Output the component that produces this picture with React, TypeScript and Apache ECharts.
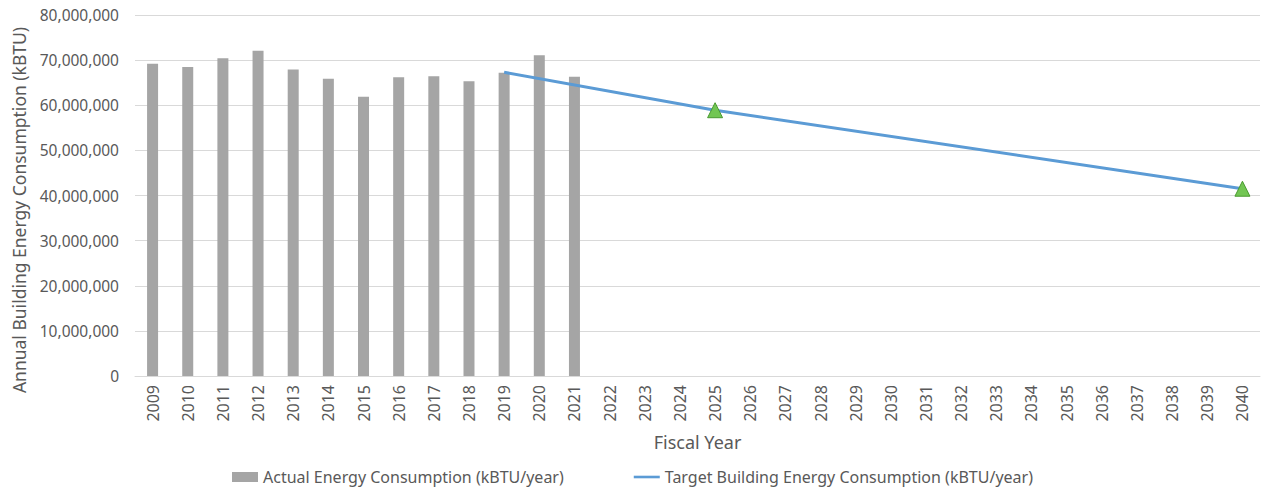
import React, { useEffect, useRef } from "react";
import * as echarts from "echarts";

const years: string[] = [
  "2009", "2010", "2011", "2012", "2013", "2014", "2015", "2016", "2017", "2018",
  "2019", "2020", "2021", "2022", "2023", "2024", "2025", "2026", "2027", "2028",
  "2029", "2030", "2031", "2032", "2033", "2034", "2035", "2036", "2037", "2038",
  "2039", "2040",
];

const actualYears: string[] = [
  "2009", "2010", "2011", "2012", "2013", "2014", "2015", "2016", "2017", "2018",
  "2019", "2020", "2021",
];
const actualValues: number[] = [
  69200000, 68500000, 70400000, 72100000, 67900000, 65900000, 61900000, 66200000,
  66400000, 65300000, 67200000, 71100000, 66300000,
];

const targetYears: string[] = ["2019", "2025", "2040"];
const targetValues: number[] = [67300000, 58900000, 41500000];
const targetMarked: boolean[] = [false, true, true];

const yTicks: number[] = [0, 10000000, 20000000, 30000000, 40000000, 50000000, 60000000, 70000000, 80000000];

const FONT = "'Noto Sans', sans-serif";
const TXT = "#595959";
const BAR_NAME = "Actual Energy Consumption (kBTU/year)";
const LINE_NAME = "Target Building Energy Consumption (kBTU/year)";
const Y_NAME = "Annual Building Energy Consumption (kBTU)";

export default function App() {
  const ref = useRef<HTMLDivElement>(null);
  useEffect(() => {
    document.body.style.margin = "0";
    if (!ref.current) return;
    const chart = echarts.init(ref.current, undefined, { renderer: "svg" });

    const barData = years.map((y) => {
      const i = actualYears.indexOf(y);
      return i >= 0 ? actualValues[i] : null;
    });
    const lineData = years.map((y) => {
      const i = targetYears.indexOf(y);
      if (i < 0) return null;
      return targetMarked[i]
        ? { value: targetValues[i], symbol: "triangle" }
        : { value: targetValues[i], symbol: "none" };
    });

    chart.setOption({
      animation: false,
      textStyle: { fontFamily: FONT },
      grid: { left: 135, right: 1, top: 15, bottom: 112, containLabel: false },
      legend: {
        top: 468,
        left: 232,
        padding: 0,
        itemGap: 70,
        itemWidth: 26,
        itemHeight: 10,
        textStyle: { fontFamily: FONT, fontSize: 16, color: TXT, lineHeight: 18 },
        data: [
          { name: BAR_NAME, icon: "rect", itemStyle: { color: "#A5A5A5" } },
          {
            name: LINE_NAME,
            icon: "path://M0,0 H30 V3 H0 Z",
            itemStyle: { color: "#5B9BD5", borderWidth: 0 },
          },
        ],
      },
      graphic: [
        {
          type: "text",
          x: 19,
          y: 210,
          rotation: Math.PI / 2,
          style: {
            text: Y_NAME,
            fontFamily: FONT,
            fontSize: 17.5,
            fill: TXT,
            align: "center",
            verticalAlign: "middle",
          },
        },
      ],
      xAxis: {
        type: "category",
        data: years,
        boundaryGap: true,
        name: "Fiscal Year",
        nameLocation: "middle",
        nameGap: 57,
        nameTextStyle: { fontFamily: FONT, fontSize: 18, color: TXT },
        axisLine: { lineStyle: { color: "#D9D9D9", width: 1 } },
        axisTick: { show: false },
        axisLabel: { rotate: 90, fontSize: 16, color: TXT, margin: 9, fontFamily: FONT },
      },
      yAxis: {
        type: "value",
        min: yTicks[0],
        max: yTicks[yTicks.length - 1],
        interval: yTicks[1] - yTicks[0],
        axisLine: { show: false },
        axisTick: { show: false },
        splitLine: { lineStyle: { color: "#D9D9D9", width: 1 } },
        axisLabel: {
          fontSize: 15.5,
          color: TXT,
          margin: 16,
          fontFamily: FONT,
          formatter: (v: number) => v.toLocaleString("en-US"),
        },
      },
      series: [
        {
          name: BAR_NAME,
          type: "bar",
          data: barData,
          barWidth: 11,
          itemStyle: { color: "#A5A5A5" },
        },
        {
          name: LINE_NAME,
          type: "line",
          data: lineData,
          connectNulls: true,
          symbol: "none",
          symbolSize: 15,
          lineStyle: { color: "#5B9BD5", width: 3 },
          itemStyle: { color: "#72C653", borderColor: "#4A9A30", borderWidth: 1 },
          z: 3,
        },
      ],
    });
    return () => chart.dispose();
  }, []);
  return <div ref={ref} style={{ width: 1261, height: 488 }} />;
}
